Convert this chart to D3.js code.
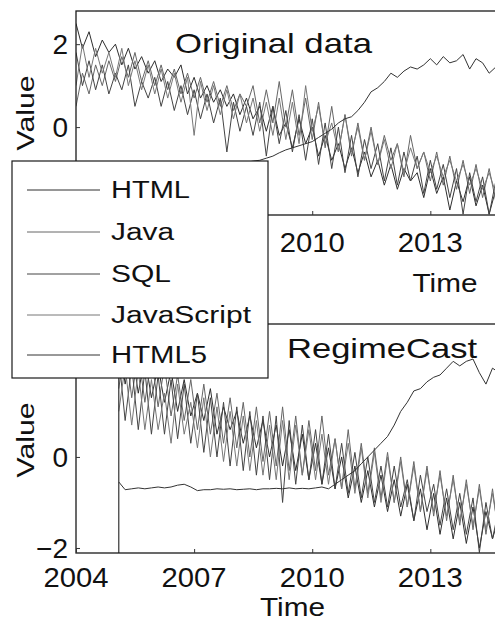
<!DOCTYPE html>
<html>
<head>
<meta charset="utf-8">
<script src="https://cdn.jsdelivr.net/npm/d3@7"></script>
<style>
  html, body { margin: 0; padding: 0; background: #fff; }
  svg { display: block; }
  text { font-family: "Liberation Sans", Arial, Helvetica, sans-serif; fill: #111; }
</style>
</head>
<body>
<svg id="chart" width="495" height="621"></svg>
<script>
// Series names and tick labels
const seriesNames = ["HTML", "Java", "SQL", "JavaScript", "HTML5"];
const yearTicks = [2004, 2007, 2010, 2013];
const yTicks = [-2, 0, 2];

// Original data: bi-monthly samples from Jan 2004 to Jan 2015 (normalised)
const htmlOrig = [
  2.5, 1.9, 2.3, 1.7, 2.1, 1.8,
  2.0, 1.5, 1.9, 1.4, 1.7, 1.3,
  1.6, 1.1, 1.4, 1.2, 1.5, 0.8,
  1.2, 0.7, 1.0, 0.6, 0.9, 0.5,
  0.8, 0.3, 0.7, 0.2, 0.5, -0.1,
  0.5, -0.2, 0.1, -0.5, 0.2, -0.4,
  0.0, -0.7, -0.2, -0.8, -0.4, -1.0,
  -0.5, -1.1, -0.6, -1.2, -0.8, -1.4,
  -0.9, -1.5, -1.0, -1.3, -1.1, -1.7,
  -1.0, -1.6, -1.2, -2.0, -1.3, -1.8,
  -1.2, -1.9, -1.4, -2.1, -1.5, -1.9,
  -1.6
];
const javaOrig = [
  0.5, 1.3, 0.8, 1.5, 1.0, 1.6,
  1.1, 1.7, 1.2, 1.8, 1.1, 1.6,
  1.0, 1.5, 0.9, 1.4, 0.8, 1.3,
  0.7, 1.2, 0.6, 1.1, 0.5, 1.0,
  0.4, 0.8, 0.5, 1.0, 0.1, 0.9,
  0.1, 1.1, 0.0, 0.9, -0.2, 0.7,
  -0.3, 0.6, -0.5, 0.5, -0.6, 0.3,
  -0.7, 0.1, -0.8, 0.0, -0.9, -0.2,
  -0.8, -0.4, -1.2, -0.2, -1.0, -0.6,
  -1.3, -0.6, -1.4, -0.7, -1.5, -0.8,
  -1.6, -0.9, -1.7, -1.0, -1.8, -1.1,
  -1.9
];
const sqlOrig = [
  1.8, 1.0, 1.6, 0.9, 1.5, 0.8,
  1.3, 0.9, 1.5, 0.5, 1.1, 0.7,
  1.2, 0.5, 1.1, 0.4, 1.0, 0.3,
  0.9, 0.2, 0.8, 0.1, 0.7, -0.6,
  0.6, -0.1, 0.5, -0.2, 0.6, -0.7,
  0.5, -0.4, 0.4, -0.6, 0.3, -0.8,
  0.2, -0.9, 0.1, -1.0, 0.0, -1.1,
  -0.2, -1.2, -0.3, -1.0, -0.4, -1.3,
  -0.5, -1.4, -0.6, -1.3, -0.7, -1.6,
  -0.8, -1.5, -0.9, -1.7, -1.0, -2.1,
  -1.1, -1.8, -1.2, -2.1, -1.3, -1.9,
  -1.5
];
const jsOrig = [
  1.0, 2.0, 1.2, 1.9, 1.3, 1.8,
  1.2, 1.9, 1.0, 1.6, 0.9, 1.5,
  0.8, 1.4, 0.7, 1.3, 0.6, 1.2,
  -0.2, 1.1, 0.4, 1.0, 0.3, 0.9,
  0.2, 0.8, 0.1, 0.7, -0.1, 0.6,
  -0.2, 0.7, -0.3, 0.6, -0.4, 1.0,
  -0.1, 0.5, -0.4, 0.1, -0.6, 0.3,
  -0.6, 0.0, -0.8, -0.1, -0.9, -0.3,
  -1.0, -0.4, -1.1, -0.5, -1.0, -0.6,
  -1.1, -0.7, -1.2, -0.8, -1.3, -0.9,
  -1.4, -1.0, -1.5, -1.1, -1.6, -1.2,
  -1.5
];
const html5Orig = [
  -0.95, -0.95, -0.95, -0.95, -0.95, -0.95,
  -0.95, -0.95, -0.95, -0.95, -0.95, -0.95,
  -0.95, -0.95, -0.95, -0.95, -0.95, -0.95,
  -0.95, -0.95, -0.94, -0.94, -0.93, -0.92,
  -0.9, -0.88, -0.85, -0.82, -0.8, -0.75,
  -0.7, -0.62, -0.55, -0.5, -0.45, -0.4,
  -0.35, -0.25, -0.15, -0.05, 0.1, 0.2,
  0.25, 0.4, 0.6, 0.85, 0.95, 1.1,
  1.3, 1.2, 1.35, 1.45, 1.4, 1.5,
  1.65, 1.5, 1.7, 1.55, 1.6, 1.75,
  1.4, 1.65, 1.55, 1.3, 1.45, 1.3,
  1.35
];

// RegimeCast output: bi-monthly samples from Feb 2005 to Feb 2015
const htmlCast = [
  2.6, 1.6, 2.4, 1.4, 2.2, 1.3,
  2.0, 1.2, 1.9, 1.0, 1.7, 0.9,
  1.4, 0.8, 1.5, 0.5, 1.1, 0.6,
  1.0, 0.3, 0.9, 0.2, 0.8, 0.0,
  0.7, -0.2, 0.6, -0.3, 0.5, -0.5,
  0.3, -0.6, 0.2, -0.7, 0.0, -0.9,
  -0.2, -1.0, -0.3, -1.1, -0.4, -1.2,
  -0.5, -1.3, -0.6, -1.4, -0.7, -1.6,
  -0.8, -1.7, -0.9, -1.8, -1.0, -1.9,
  -1.1, -2.0, -1.2, -1.8, -1.3, -1.9,
  -1.4
];
const javaCast = [
  1.5, 2.5, 1.3, 2.3, 1.2, 2.2,
  1.1, 2.0, 0.9, 1.8, 0.8, 1.7,
  0.6, 1.6, 0.5, 1.4, 0.3, 1.3,
  0.2, 1.2, 0.0, 1.1, -0.1, 1.0,
  -0.2, 1.1, -0.3, 0.9, -0.4, 0.8,
  -0.3, 0.9, -0.4, 0.4, -0.7, 0.6,
  -0.7, 0.3, -0.8, 0.2, -0.9, 0.1,
  -1.0, 0.0, -1.1, -0.1, -1.2, -0.2,
  -1.3, -0.3, -1.4, -0.4, -1.5, -0.5,
  -1.6, -0.6, -1.7, -0.7, -1.8, -0.8,
  -1.9
];
const sqlCast = [
  2.2, 0.8, 2.0, 0.6, 1.9, 0.5,
  1.8, 0.5, 1.7, 0.4, 1.6, 0.3,
  1.4, 0.1, 1.3, 0.0, 1.2, -0.2,
  1.1, -0.3, 1.0, -0.4, 0.9, -0.5,
  0.9, -1.0, 0.8, -0.6, 0.7, -0.5,
  0.6, -0.6, 0.5, -0.7, 0.3, -0.8,
  0.1, -0.9, 0.0, -1.0, -0.2, -1.1,
  -0.2, -1.1, -0.5, -1.4, -0.4, -1.2,
  -0.6, -1.5, -0.7, -1.6, -0.8, -1.7,
  -0.9, -2.1, -1.0, -1.8, -1.1, -1.9,
  -1.2
];
const jsCast = [
  1.0, 2.0, 0.7, 1.9, 0.6, 1.7,
  0.6, 1.4, 0.3, 1.6, 0.5, 1.2,
  0.2, 1.3, 0.0, 1.1, -0.1, 1.0,
  -0.2, 0.9, -0.3, 0.8, -0.4, 0.7,
  -0.5, 0.8, -0.5, 0.7, -0.4, 0.6,
  -0.5, 0.5, -0.6, 0.4, -0.7, 0.3,
  -0.8, 0.2, -0.9, 0.1, -1.0, 0.0,
  -1.0, -0.1, -1.1, -0.2, -1.2, -0.3,
  -1.2, -0.4, -1.3, -0.5, -1.4, -0.6,
  -1.5, -0.7, -1.6, -0.8, -1.7, -0.9,
  -1.8
];
const html5Cast = [
  -0.55, -0.72, -0.7, -0.68, -0.7, -0.68,
  -0.66, -0.68, -0.66, -0.62, -0.6, -0.66,
  -0.74, -0.72, -0.72, -0.7, -0.71, -0.7,
  -0.72, -0.71, -0.7, -0.72, -0.7, -0.7,
  -0.69, -0.7, -0.68, -0.7, -0.69, -0.7,
  -0.68, -0.66, -0.7, -0.6, -0.5, -0.4,
  -0.3, -0.15, 0.0, 0.15, 0.3, 0.45,
  0.7, 1.0, 1.2, 1.45, 1.5, 1.65,
  1.75, 1.8, 1.95, 2.1, 2.0, 2.1,
  2.15, 1.85, 1.6, 1.95, 1.85, 1.9,
  1.9
];

const origSeries = [htmlOrig, javaOrig, sqlOrig, jsOrig, html5Orig];
const castSeries = [htmlCast, javaCast, sqlCast, jsCast, html5Cast];
const seriesColors = ["#2e2e2e", "#666666", "#444444", "#777777", "#333333"];

const svg = d3.select("#chart");
const FONT = 28;

const x = d3.scaleTime()
  .domain([new Date(2004, 0, 1), new Date(2015, 0, 1)])
  .range([76, 509]);

// bi-monthly date sequence starting at a given month
const dates = (start, n) => d3.range(n).map(i => d3.timeMonth.offset(start, 2 * i));

const panels = [
  { id: "orig", top: 11, bottom: 215, domain: [-2.12, 2.8], data: origSeries,
    start: new Date(2004, 0, 1),
    title: "Original data", titleX: 273.5, titleY: 53, titleW: 197,
    timeX: 445, timeY: 292, labelY: 252, valueY: 113 },
  { id: "cast", top: 324, bottom: 553, domain: [-2.11, 2.92], data: castSeries,
    start: new Date(2005, 1, 1),
    title: "RegimeCast", titleX: 382, titleY: 358, titleW: 190,
    timeX: 292.5, timeY: 616, labelY: 587, valueY: 440 }
];

panels.forEach(p => {
  const y = d3.scaleLinear().domain(p.domain).range([p.bottom, p.top]);
  const g = svg.append("g");

  g.append("clipPath").attr("id", "clip-" + p.id)
    .append("rect")
    .attr("x", x.range()[0]).attr("y", p.top)
    .attr("width", x.range()[1] - x.range()[0]).attr("height", p.bottom - p.top);

  // data lines
  const plot = g.append("g").attr("clip-path", `url(#clip-${p.id})`);
  p.data.forEach((vals, k) => {
    const ds = dates(p.start, vals.length);
    const line = d3.line().x((d, i) => x(ds[i])).y(d => y(d));
    plot.append("path")
      .datum(vals)
      .attr("d", line)
      .attr("fill", "none")
      .attr("stroke", seriesColors[k])
      .attr("stroke-width", 1)
      .attr("stroke-linejoin", "round");
  });

  // forecast start marker
  if (p.id === "cast") {
    plot.append("line")
      .attr("x1", x(p.start)).attr("x2", x(p.start))
      .attr("y1", p.top).attr("y2", p.bottom)
      .attr("stroke", "#333").attr("stroke-width", 1.2);
  }

  // axes box
  g.append("rect")
    .attr("x", x.range()[0]).attr("y", p.top)
    .attr("width", x.range()[1] - x.range()[0]).attr("height", p.bottom - p.top)
    .attr("fill", "none").attr("stroke", "#1a1a1a").attr("stroke-width", 1.3);

  // x axis (inward ticks)
  const xAxis = d3.axisBottom(x)
    .tickValues(yearTicks.map(yr => new Date(yr, 0, 1)))
    .tickFormat(d3.timeFormat("%Y"))
    .tickSizeInner(-4).tickSizeOuter(0).tickPadding(0);
  const xg = g.append("g").attr("transform", `translate(0,${p.bottom})`).call(xAxis);
  xg.select(".domain").remove();
  xg.selectAll(".tick line").attr("stroke", "#333");
  xg.selectAll(".tick text").remove();
  yearTicks.forEach(yr => {
    g.append("text")
      .attr("x", x(new Date(yr, 0, 1))).attr("y", p.labelY)
      .attr("text-anchor", "middle")
      .attr("font-size", 27)
      .attr("textLength", 65).attr("lengthAdjust", "spacingAndGlyphs")
      .text(String(yr));
  });

  // y axis (inward ticks)
  const yAxis = d3.axisLeft(y).tickValues(yTicks)
    .tickSizeInner(-4).tickSizeOuter(0).tickPadding(0);
  const yg = g.append("g").attr("transform", `translate(${x.range()[0]},0)`).call(yAxis);
  yg.select(".domain").remove();
  yg.selectAll(".tick line").attr("stroke", "#333");
  yg.selectAll(".tick text").remove();
  yTicks.forEach(v => {
    g.append("text")
      .attr("x", 68).attr("y", y(v))
      .attr("dy", "0.36em")
      .attr("text-anchor", "end")
      .attr("font-size", FONT)
      .text(v < 0 ? "\u2212" + Math.abs(v) : String(v));
  });

  // titles and axis labels
  g.append("text")
    .attr("x", p.titleX).attr("y", p.titleY)
    .attr("text-anchor", "middle").attr("font-size", FONT)
    .attr("textLength", p.titleW).attr("lengthAdjust", "spacingAndGlyphs")
    .text(p.title);
  g.append("text")
    .attr("x", p.timeX).attr("y", p.timeY)
    .attr("text-anchor", "middle").attr("font-size", 26)
    .attr("textLength", 65).attr("lengthAdjust", "spacingAndGlyphs")
    .text("Time");
  g.append("text")
    .attr("transform", `translate(34,${p.valueY}) rotate(-90)`)
    .attr("text-anchor", "middle").attr("font-size", 23)
    .attr("textLength", 75).attr("lengthAdjust", "spacingAndGlyphs")
    .text("Value");
});

// legend
const legend = svg.append("g");
legend.append("rect")
  .attr("x", 12).attr("y", 161).attr("width", 256).attr("height", 217)
  .attr("fill", "#fff").attr("stroke", "#1a1a1a").attr("stroke-width", 1.2);
const legendBaselines = [198, 240, 282, 323, 363];
const legendWidths = [79, 63, 60, 140, 96];
seriesNames.forEach((name, k) => {
  const by = legendBaselines[k];
  legend.append("line")
    .attr("x1", 27).attr("x2", 100)
    .attr("y1", by - 8).attr("y2", by - 8)
    .attr("stroke", seriesColors[k]).attr("stroke-width", 1);
  legend.append("text")
    .attr("x", 111).attr("y", by)
    .attr("font-size", 23)
    .attr("textLength", legendWidths[k]).attr("lengthAdjust", "spacingAndGlyphs")
    .text(name);
});
</script>
</body>
</html>
